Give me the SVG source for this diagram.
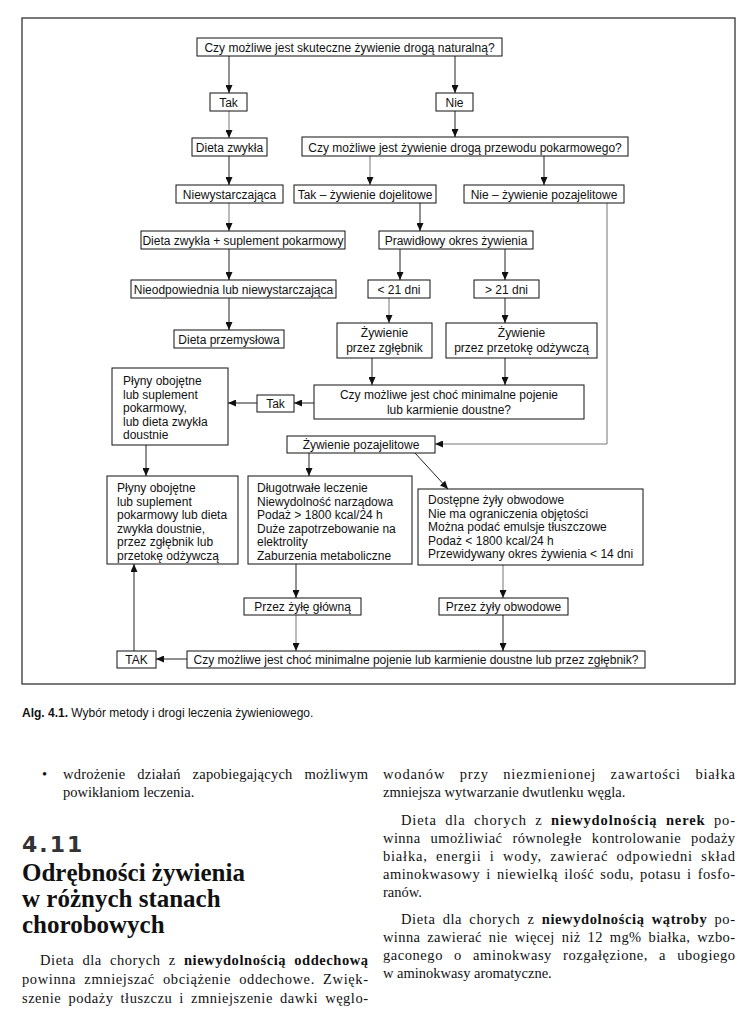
<svg xmlns="http://www.w3.org/2000/svg" width="752" height="1010" viewBox="0 0 752 1010">
<style>
.b{fill:#fff;stroke:#111;stroke-width:1}
.t{font-family:"Liberation Sans",Arial,sans-serif;font-size:12px;fill:#111}
.c{text-anchor:middle}
.l{fill:none;stroke:#222;stroke-width:1}
.g{stroke:#777}
.s{font-family:"Liberation Serif","Times New Roman",serif;font-size:14.5px;fill:#111}
.h{font-family:"Liberation Serif","Times New Roman",serif;font-size:25px;font-weight:bold;fill:#111}
</style>
<defs>
<marker id="a" markerWidth="8" markerHeight="7" refX="8" refY="3.5" orient="auto" markerUnits="userSpaceOnUse"><path d="M0,0 L8,3.5 L0,7 z" fill="#111"/></marker>
</defs>
<rect x="22" y="18" width="713" height="666" fill="none" stroke="#333" stroke-width="1.3"/>
<g id="connectors" class="l" marker-end="url(#a)">
<line x1="229" y1="56" x2="229" y2="93"/>
<line x1="455" y1="56" x2="455" y2="93"/>
<line class="g" x1="229" y1="111" x2="229" y2="138"/>
<line x1="455" y1="111" x2="455" y2="137"/>
<line x1="229" y1="156" x2="229" y2="185"/>
<line class="g" x1="370" y1="156" x2="370" y2="185"/>
<line x1="544" y1="156" x2="544" y2="185"/>
<line class="g" x1="229" y1="203" x2="229" y2="231"/>
<line x1="420" y1="203" x2="420" y2="231"/>
<line x1="229" y1="249" x2="229" y2="280"/>
<line x1="400" y1="249" x2="400" y2="280"/>
<line x1="505" y1="249" x2="505" y2="280"/>
<line x1="229" y1="298" x2="229" y2="330"/>
<line class="g" x1="389" y1="298" x2="389" y2="323"/>
<line x1="505" y1="298" x2="505" y2="323"/>
<line x1="372" y1="358" x2="372" y2="385"/>
<line x1="505" y1="358" x2="505" y2="385"/>
<line x1="314" y1="403" x2="294" y2="403"/>
<line x1="257" y1="403" x2="228" y2="403"/>
<polyline class="g" points="607,203 607,444 435,444"/>
<line x1="146" y1="445" x2="146" y2="476"/>
<line x1="309" y1="453" x2="309" y2="476"/>
<line x1="415" y1="453" x2="448" y2="489"/>
<line x1="296" y1="564" x2="296" y2="598"/>
<line class="g" x1="503" y1="565" x2="503" y2="598"/>
<line class="g" x1="296" y1="615" x2="296" y2="651"/>
<line x1="503" y1="615" x2="503" y2="651"/>
<line x1="187" y1="659" x2="156" y2="659"/>
<line x1="134" y1="651" x2="134" y2="564"/>
</g>
<g id="q1"><rect class="b" x="197" y="38" width="305" height="18"/><text class="t c" x="349.5" y="51.5">Czy możliwe jest skuteczne żywienie drogą naturalną?</text></g>
<g id="tak1"><rect class="b" x="210" y="93" width="37" height="18"/><text class="t c" x="228.5" y="106.5">Tak</text></g>
<g id="nie1"><rect class="b" x="436" y="93" width="37" height="18"/><text class="t c" x="454.5" y="106.5">Nie</text></g>
<g id="dieta-zwykla"><rect class="b" x="192" y="138" width="75" height="18"/><text class="t c" x="229.5" y="151.5">Dieta zwykła</text></g>
<g id="q2"><rect class="b" x="302" y="137" width="326" height="19"/><text class="t c" x="465" y="151.5">Czy możliwe jest żywienie drogą przewodu pokarmowego?</text></g>
<g id="niewystarczajaca"><rect class="b" x="176" y="185" width="107" height="18"/><text class="t c" x="229.5" y="198.5">Niewystarczająca</text></g>
<g id="tak-dojelitowe"><rect class="b" x="294" y="185" width="142" height="18"/><text class="t c" x="365" y="198.5">Tak – żywienie dojelitowe</text></g>
<g id="nie-pozajelitowe"><rect class="b" x="464" y="185" width="160" height="18"/><text class="t c" x="544" y="198.5">Nie – żywienie pozajelitowe</text></g>
<g id="dieta-suplement"><rect class="b" x="141" y="231" width="204" height="18"/><text class="t c" x="243" y="244.5">Dieta zwykła + suplement pokarmowy</text></g>
<g id="prawidlowy"><rect class="b" x="379" y="231" width="154" height="18"/><text class="t c" x="456" y="244.5">Prawidłowy okres żywienia</text></g>
<g id="nieodpowiednia"><rect class="b" x="131" y="280" width="205" height="18"/><text class="t c" x="233.5" y="293.5">Nieodpowiednia lub niewystarczająca</text></g>
<g id="lt21"><rect class="b" x="368" y="280" width="62" height="18"/><text class="t c" x="399" y="293.5">&lt; 21 dni</text></g>
<g id="gt21"><rect class="b" x="474" y="280" width="65" height="18"/><text class="t c" x="506.5" y="293.5">&gt; 21 dni</text></g>
<g id="dieta-przemyslowa"><rect class="b" x="174" y="330" width="110" height="18"/><text class="t c" x="229" y="343.5">Dieta przemysłowa</text></g>
<g id="zgl"><rect class="b" x="337" y="323" width="95" height="35"/><text class="t c" x="384.5" y="337">Żywienie</text><text class="t c" x="384.5" y="351.5">przez zgłębnik</text></g>
<g id="przetoka"><rect class="b" x="446" y="323" width="151" height="35"/><text class="t c" x="521.5" y="337">Żywienie</text><text class="t c" x="521.5" y="351.5">przez przetokę odżywczą</text></g>
<g id="plyny1"><rect class="b" x="112" y="368" width="116" height="77"/>
<text class="t" x="123" y="385">Płyny obojętne</text><text class="t" x="123" y="398.5">lub suplement</text><text class="t" x="123" y="412">pokarmowy,</text><text class="t" x="123" y="425.5">lub dieta zwykła</text><text class="t" x="123" y="439">doustnie</text></g>
<g id="tak2"><rect class="b" x="257" y="395" width="37" height="17"/><text class="t c" x="275.5" y="408">Tak</text></g>
<g id="q3"><rect class="b" x="314" y="385" width="270" height="34"/><text class="t c" x="449" y="399">Czy możliwe jest choć minimalne pojenie</text><text class="t c" x="449" y="413.5">lub karmienie doustne?</text></g>
<g id="zyw-pozajelitowe"><rect class="b" x="287" y="436" width="148" height="17"/><text class="t c" x="361" y="449">Żywienie pozajelitowe</text></g>
<g id="plyny2"><rect class="b" x="107" y="476" width="131" height="88"/>
<text class="t" x="117" y="492">Płyny obojętne</text><text class="t" x="117" y="505.5">lub suplement</text><text class="t" x="117" y="519">pokarmowy lub dieta</text><text class="t" x="117" y="532.5">zwykła doustnie,</text><text class="t" x="117" y="546">przez zgłębnik lub</text><text class="t" x="117" y="559.5">przetokę odżywczą</text></g>
<g id="dlugotrwale"><rect class="b" x="248" y="476" width="164" height="88"/>
<text class="t" x="257" y="492">Długotrwałe leczenie</text><text class="t" x="257" y="505.5">Niewydolność narządowa</text><text class="t" x="257" y="519">Podaż &gt; 1800 kcal/24 h</text><text class="t" x="257" y="532.5">Duże zapotrzebowanie na</text><text class="t" x="257" y="546">elektrolity</text><text class="t" x="257" y="559.5">Zaburzenia metaboliczne</text></g>
<g id="dostepne"><rect class="b" x="418" y="489" width="225" height="76"/>
<text class="t" x="428" y="504">Dostępne żyły obwodowe</text><text class="t" x="428" y="517.5">Nie ma ograniczenia objętości</text><text class="t" x="428" y="531">Można podać emulsje tłuszczowe</text><text class="t" x="428" y="544.5">Podaż &lt; 1800 kcal/24 h</text><text class="t" x="428" y="558">Przewidywany okres żywienia &lt; 14 dni</text></g>
<g id="zyla-glowna"><rect class="b" x="244" y="598" width="117" height="17"/><text class="t c" x="302.5" y="611">Przez żyłę główną</text></g>
<g id="zyly-obwodowe"><rect class="b" x="439" y="598" width="129" height="17"/><text class="t c" x="503.5" y="611">Przez żyły obwodowe</text></g>
<g id="tak3"><rect class="b" x="117" y="651" width="39" height="17"/><text class="t c" x="136.5" y="664">TAK</text></g>
<g id="q4"><rect class="b" x="187" y="651" width="458" height="17"/><text class="t c" x="416" y="664">Czy możliwe jest choć minimalne pojenie lub karmienie doustne lub przez zgłębnik?</text></g>
<text x="22" y="717" style="font-family:'Liberation Sans',Arial,sans-serif;font-size:12px;fill:#111"><tspan font-weight="bold">Alg. 4.1.</tspan> Wybór metody i drogi leczenia żywieniowego.</text>
<text class="s" x="42" y="779">•</text>
<text class="s" x="63" y="779" word-spacing="8" textLength="305" lengthAdjust="spacing">wdrożenie działań zapobiegających możliwym</text>
<text class="s" x="63" y="797">powikłaniom leczenia.</text>
<text x="22" y="852" style="font-family:'DejaVu Sans',Arial,sans-serif;font-size:22px;font-weight:bold;letter-spacing:2px;fill:#333">4.11</text>
<text class="h" x="22" y="881">Odrębności żywienia</text>
<text class="h" x="22" y="907">w różnych stanach</text>
<text class="h" x="22" y="933">chorobowych</text>
<text class="s" x="40" y="965" word-spacing="4" textLength="328" lengthAdjust="spacing">Dieta dla chorych z <tspan font-weight="bold">niewydolnością oddechową</tspan></text>
<text class="s" x="22" y="984" word-spacing="4" textLength="346" lengthAdjust="spacing">powinna zmniejszać obciążenie oddechowe. Zwięk-</text>
<text class="s" x="22" y="1003" word-spacing="3" textLength="346" lengthAdjust="spacing">szenie podaży tłuszczu i zmniejszenie dawki węglo-</text>
<text class="s" x="383" y="779" word-spacing="10" textLength="352" lengthAdjust="spacing">wodanów przy niezmienionej zawartości białka</text>
<text class="s" x="383" y="797">zmniejsza wytwarzanie dwutlenku węgla.</text>
<text class="s" x="401" y="825" word-spacing="4" textLength="334" lengthAdjust="spacing">Dieta dla chorych z <tspan font-weight="bold">niewydolnością nerek</tspan> po-</text>
<text class="s" x="383" y="843" word-spacing="6" textLength="352" lengthAdjust="spacing">winna umożliwiać równoległe kontrolowanie podaży</text>
<text class="s" x="383" y="861" word-spacing="4" textLength="352" lengthAdjust="spacing">białka, energii i wody, zawierać odpowiedni skład</text>
<text class="s" x="383" y="879" word-spacing="2" textLength="352" lengthAdjust="spacing">aminokwasowy i niewielką ilość sodu, potasu i fosfo-</text>
<text class="s" x="383" y="897">ranów.</text>
<text class="s" x="401" y="924" word-spacing="3" textLength="334" lengthAdjust="spacing">Dieta dla chorych z <tspan font-weight="bold">niewydolnością wątroby</tspan> po-</text>
<text class="s" x="383" y="942" word-spacing="3" textLength="352" lengthAdjust="spacing">winna zawierać nie więcej niż 12 mg% białka, wzbo-</text>
<text class="s" x="383" y="960" word-spacing="7" textLength="352" lengthAdjust="spacing">gaconego o aminokwasy rozgałęzione, a ubogiego</text>
<text class="s" x="383" y="978">w aminokwasy aromatyczne.</text>
</svg>
